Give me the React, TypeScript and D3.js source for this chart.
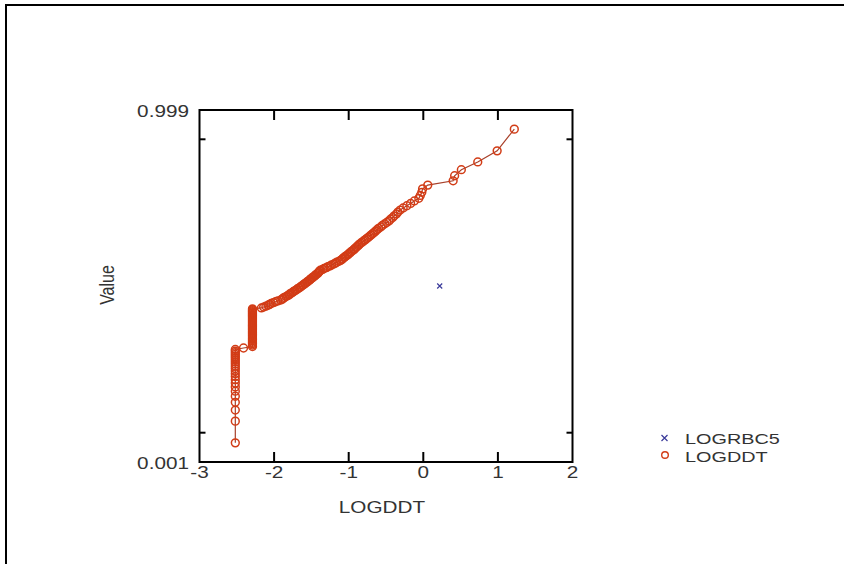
import * as d3 from "d3";
import * as React from "react";

// probability plot: LOGDDT / LOGRBC5 vs normal probability
const xTicks = [-3, -2, -1, 0, 1, 2];
const yLabels = [0.001, 0.999];
const yMinorTicks = [0.005, 0.995];

const seriesNames = ["LOGRBC5", "LOGDDT"];

const rbcValues = [0.22];

// tied values at the low end (value, how many times it occurs)
const ddtTieValues = [-2.52, -2.41, -2.29];
const ddtTieCounts = [23, 1, 35];

// remaining sorted values
const ddtValues = [
  -2.17, -2.14, -2.11, -2.08, -2.06,
  -2.04, -2.01, -1.98, -1.95, -1.91,
  -1.89, -1.88, -1.86, -1.84, -1.82, -1.8, -1.79, -1.77, -1.75, -1.74,
  -1.72, -1.7, -1.69, -1.67, -1.65,
  -1.64, -1.62, -1.61, -1.59, -1.58, -1.56, -1.55, -1.53, -1.52, -1.51,
  -1.49, -1.48, -1.46, -1.45, -1.44, -1.42, -1.41, -1.4, -1.39, -1.38,
  -1.35, -1.33, -1.3, -1.28, -1.25, -1.23, -1.2, -1.18, -1.16, -1.13, -1.11,
  -1.09, -1.08, -1.06, -1.05, -1.03, -1.01, -1.0, -0.98, -0.97, -0.95,
  -0.93, -0.92, -0.9, -0.89, -0.87, -0.86, -0.84,
  -0.82, -0.8, -0.78, -0.76, -0.74, -0.72, -0.7, -0.68, -0.66, -0.64,
  -0.62, -0.6, -0.57,
  -0.55, -0.52, -0.49, -0.46, -0.44, -0.41, -0.39, -0.36, -0.34, -0.31,
  -0.27, -0.22, -0.17, -0.12, -0.06, -0.04, -0.02, -0.01,
  0.06, 0.4, 0.42, 0.51, 0.73, 0.99, 1.22,
];

// inverse normal cdf (Acklam)
function qnorm(p: number) {
  const a = [-39.69683028665376, 220.9460984245205, -275.9285104469687, 138.357751867269, -30.66479806614716, 2.506628277459239];
  const b = [-54.47609879822406, 161.5858368580409, -155.6989798598866, 66.80131188771972, -13.28068155288572];
  const c = [-0.007784894002430293, -0.3223964580411365, -2.400758277161838, -2.549732539343734, 4.374664141464968, 2.938163982698783];
  const d = [0.007784695709041462, 0.3224671290700398, 2.445134137142996, 3.754408661907416];
  const pl = 0.02425;
  if (p < pl) {
    const q = Math.sqrt(-2 * Math.log(p));
    return (((((c[0] * q + c[1]) * q + c[2]) * q + c[3]) * q + c[4]) * q + c[5]) /
      ((((d[0] * q + d[1]) * q + d[2]) * q + d[3]) * q + 1);
  }
  if (p > 1 - pl) {
    const q = Math.sqrt(-2 * Math.log(1 - p));
    return -(((((c[0] * q + c[1]) * q + c[2]) * q + c[3]) * q + c[4]) * q + c[5]) /
      ((((d[0] * q + d[1]) * q + d[2]) * q + d[3]) * q + 1);
  }
  const q = p - 0.5;
  const r = q * q;
  return (((((a[0] * r + a[1]) * r + a[2]) * r + a[3]) * r + a[4]) * r + a[5]) * q /
    (((((b[0] * r + b[1]) * r + b[2]) * r + b[3]) * r + b[4]) * r + 1);
}

const font = "'Liberation Sans', Arial, sans-serif";
const textColor = "#333";
const stretch = 1.22;
const ddtColor = "#d23c16";
const ddtLine = "#a8402a";
const rbcColor = "#3a3a9a";

function probPoints(values: number[]) {
  const sorted = values.slice().sort((a, b) => a - b);
  const n = sorted.length;
  return sorted.map((v, i) => ({ v, z: qnorm((i + 0.5) / n) }));
}

export default function App() {
  const margin = { left: 199.5, right: 572.5, top: 110, bottom: 462 };

  const x = d3.scaleLinear().domain([-3, 2]).range([margin.left, margin.right]);
  const y = d3
    .scaleLinear()
    .domain([qnorm(0.001), qnorm(0.999)])
    .range([margin.bottom, margin.top]);

  const ddtAll: number[] = [];
  ddtTieValues.forEach((v, i) => {
    for (let k = 0; k < ddtTieCounts[i]; k++) ddtAll.push(v);
  });
  ddtValues.forEach((v) => ddtAll.push(v));

  const ddtPts = probPoints(ddtAll);
  const rbcPts = probPoints(rbcValues);

  const line = d3
    .line<{ v: number; z: number }>()
    .x((d) => x(d.v))
    .y((d) => y(d.z));

  const w = margin.right - margin.left;
  const h = margin.bottom - margin.top;

  return (
    <svg
      width={844}
      height={564}
      style={{ position: "absolute", left: 0, top: 0, background: "#fff" }}
    >
      {/* outer frame */}
      <rect x={6} y={5} width={900} height={700} fill="none" stroke="#000" strokeWidth={2} />

      {/* data */}
      <path d={line(ddtPts) || ""} fill="none" stroke={ddtLine} strokeWidth={1.2} />
      {ddtPts.map((d, i) => (
        <circle
          key={i}
          cx={x(d.v)}
          cy={y(d.z)}
          r={3.9}
          fill="none"
          stroke={ddtColor}
          strokeWidth={1.5}
        />
      ))}
      {rbcPts.map((d, i) => (
        <path
          key={i}
          d={`M${x(d.v) - 2.5},${y(d.z) - 2.5}L${x(d.v) + 2.5},${y(d.z) + 2.5}M${x(d.v) - 2.5},${y(d.z) + 2.5}L${x(d.v) + 2.5},${y(d.z) - 2.5}`}
          stroke={rbcColor}
          strokeWidth={1.2}
        />
      ))}

      {/* plot box */}
      <rect x={margin.left} y={margin.top} width={w} height={h} fill="none" stroke="#000" strokeWidth={2} />

      {/* x ticks bottom and top */}
      {xTicks.slice(1, -1).map((t) => (
        <g key={t}>
          <line x1={x(t)} x2={x(t)} y1={margin.bottom} y2={margin.bottom - 10} stroke="#000" strokeWidth={2} />
          <line x1={x(t)} x2={x(t)} y1={margin.top} y2={margin.top + 10} stroke="#000" strokeWidth={2} />
        </g>
      ))}
      {xTicks.map((t) => (
        <text
          key={t}
          transform={`translate(${x(t)},478) scale(${stretch},1)`}
          textAnchor="middle"
          fontFamily={font}
          fontSize={17}
          fill={textColor}
        >
          {t}
        </text>
      ))}

      {/* y ticks */}
      {yMinorTicks.map((p) => (
        <g key={p}>
          <line x1={margin.left} x2={margin.left + 6} y1={y(qnorm(p))} y2={y(qnorm(p))} stroke="#000" strokeWidth={2} />
          <line x1={margin.right} x2={margin.right - 6} y1={y(qnorm(p))} y2={y(qnorm(p))} stroke="#000" strokeWidth={2} />
        </g>
      ))}
      {yLabels.map((p) => (
        <text
          key={p}
          transform={`translate(189,${y(qnorm(p)) + 7}) scale(${stretch},1)`}
          textAnchor="end"
          fontFamily={font}
          fontSize={17}
          fill={textColor}
        >
          {p.toFixed(3)}
        </text>
      ))}

      {/* axis titles */}
      <text
        transform={`translate(382,513) scale(${stretch},1)`}
        textAnchor="middle"
        fontFamily={font}
        fontSize={17}
        fill={textColor}
      >
        LOGDDT
      </text>
      <text
        transform={`translate(114,285) rotate(-90) scale(1,${stretch})`}
        textAnchor="middle"
        fontFamily={font}
        fontSize={16}
        fill={textColor}
      >
        Value
      </text>

      {/* legend */}
      <g>
        <path d="M661.5,435L667.5,441M661.5,441L667.5,435" stroke={rbcColor} strokeWidth={1.2} />
        <circle cx={665} cy={455} r={3.3} fill="none" stroke={ddtColor} strokeWidth={1.4} />
        {seriesNames.map((s, i) => (
          <text
            key={s}
            transform={`translate(685,${444 + i * 17.5}) scale(1.28,1)`}
            fontFamily={font}
            fontSize={15.5}
            fill={textColor}
          >
            {s}
          </text>
        ))}
      </g>
    </svg>
  );
}
